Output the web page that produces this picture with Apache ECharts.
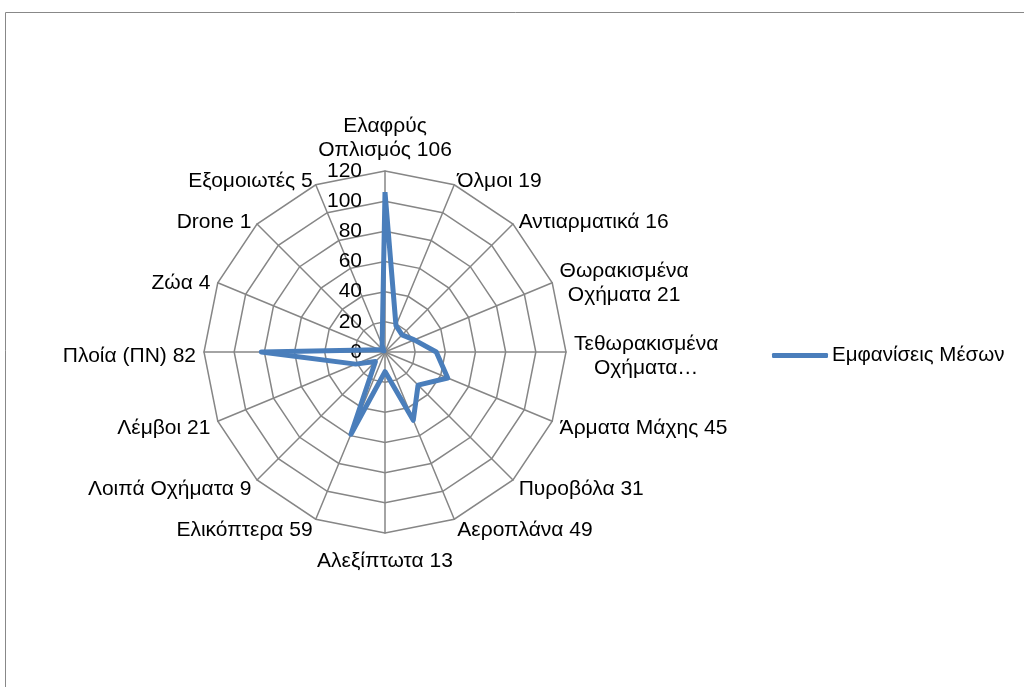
<!doctype html>
<html lang="el">
<head>
    <meta charset="UTF-8">
    <title>Εμφανίσεις Μέσων</title>
    <style>
        *{margin: 0; padding: 0}
        body{background: #fff}
    </style>
</head>
<body>
<div id="block" style="width:1024px;height:687px"></div>

<script src="https://cdn.jsdelivr.net/npm/echarts@6/dist/echarts.min.js"></script>
<script>
    // data (clockwise from top, as in the original)
    const labels = [
        'Ελαφρύς\nΟπλισμός 106', 'Όλμοι 19', 'Αντιαρματικά 16', 'Θωρακισμένα\nΟχήματα 21',
        'Τεθωρακισμένα\nΟχήματα…', 'Άρματα Μάχης 45', 'Πυροβόλα 31', 'Αεροπλάνα 49',
        'Αλεξίπτωτα 13', 'Ελικόπτερα 59', 'Λοιπά Οχήματα 9', 'Λέμβοι 21',
        'Πλοία (ΠΝ) 82', 'Ζώα 4', 'Drone 1', 'Εξομοιωτές 5'
    ];
    const values = [106, 19, 16, 21, 34, 45, 31, 49, 13, 59, 9, 21, 82, 4, 1, 5];
    const seriesName = 'Εμφανίσεις Μέσων';
    const axisMax = 120;

    // echarts lays indicators out counter-clockwise, so flip all but the first
    const order = [0];
    for (let i = labels.length - 1; i > 0; i--) order.push(i);

    const indicator = order.map((k, i) => {
        let ind = {name: labels[k], min: 0, max: axisMax};
        if (i === 0) ind.axisLabel = {show: true};
        return ind;
    });

    const font = 'Liberation Sans, Arial, sans-serif';
    const fs = 21;

    // centre every line of a label; the top label sits a bit lower in the original
    const fmtName = function(name) {
        const lines = name.split('\n');
        if (name === labels[0]) return '{t1|' + lines[0] + '}\n{t2|' + lines[1] + '}';
        return lines.map(s => '{c|' + s + '}').join('\n');
    };
    const txt = {align: 'center', color: '#000', fontFamily: font, fontSize: fs};

    const chart = echarts.init(document.getElementById('block'));
    chart.setOption({
        animation: false,
        graphic: [{
            type: 'rect',
            shape: {x: 5.5, y: 12.5, width: 1100, height: 700},
            style: {fill: 'none', stroke: '#888', lineWidth: 1}
        }],
        legend: {
            data: [seriesName],
            left: 772, top: 345,
            padding: 0,
            icon: 'roundRect',
            itemWidth: 56, itemHeight: 5, itemGap: 0,
            textStyle: {fontFamily: font, fontSize: 20.5, color: '#000', padding: [0, 0, 0, -1]}
        },
        radar: {
            center: [385, 352],
            radius: 181,
            startAngle: 90,
            shape: 'polygon',
            splitNumber: 6,
            indicator: indicator,
            axisName: {
                color: '#000', fontFamily: font, fontSize: fs, lineHeight: 24,
                padding: [8, 0, 0, 0],
                formatter: fmtName,
                rich: {
                    c: Object.assign({lineHeight: 24}, txt),
                    t1: Object.assign({lineHeight: 46}, txt),
                    t2: Object.assign({lineHeight: 2}, txt)
                }
            },
            nameGap: 8,
            axisLine: {lineStyle: {color: '#868686', width: 1.5}},
            splitLine: {lineStyle: {color: '#868686', width: 1.5}},
            splitArea: {show: false},
            axisLabel: {show: false, color: '#000', fontFamily: font, fontSize: fs, margin: 23}
        },
        series: [{
            name: seriesName,
            type: 'radar',
            symbol: 'none',
            lineStyle: {color: '#4a7ebb', width: 5},
            itemStyle: {color: '#4a7ebb'},
            data: [{value: order.map(k => values[k]), name: seriesName}]
        }]
    });
</script>
</body>
</html>
